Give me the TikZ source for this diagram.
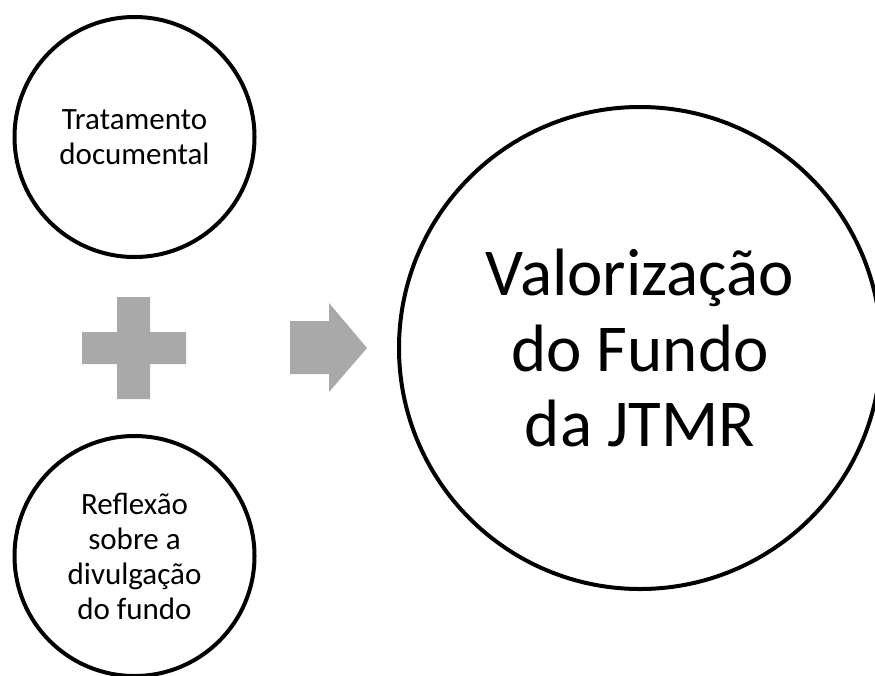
\documentclass[tikz,border=0pt]{standalone}
\usepackage{fontspec}
\setmainfont{Carlito}
\definecolor{shapegray}{HTML}{A9A9A9}
\begin{document}
\begin{tikzpicture}[x=1pt,y=-1pt,
  ring/.style={circle, draw=black, line width=4pt, inner sep=0pt, align=center, fill=white},
  smalltext/.style={font=\fontsize{31}{35}\selectfont},
  bigtext/.style={font=\fontsize{67}{75.5}\selectfont},
  graysym/.style={fill=shapegray, draw=none}]
\useasboundingbox (0,0) rectangle (875,675);
\clip (0,0) rectangle (875,675);
\node[ring, smalltext, minimum size=240pt] (top) at (134.5,137) {Tratamento\\documental};
\node[ring, smalltext, minimum size=240pt] (bottom) at (134.5,556) {Reflexão\\sobre a\\divulgação\\do fundo};
\node[ring, bigtext, minimum size=482pt] (big) at (640,348) {Valorização\\do Fundo\\da JTMR};
% plus sign
\fill[graysym] (117,297) -- (150,297) -- (150,332) -- (186,332) -- (186,364) -- (150,364)
  -- (150,399) -- (117,399) -- (117,364) -- (82,364) -- (82,332) -- (117,332) -- cycle;
% arrow
\fill[graysym] (290,321) -- (329,321) -- (329,303) -- (367,348) -- (329,392) -- (329,374)
  -- (290,374) -- cycle;
\end{tikzpicture}
\end{document}
